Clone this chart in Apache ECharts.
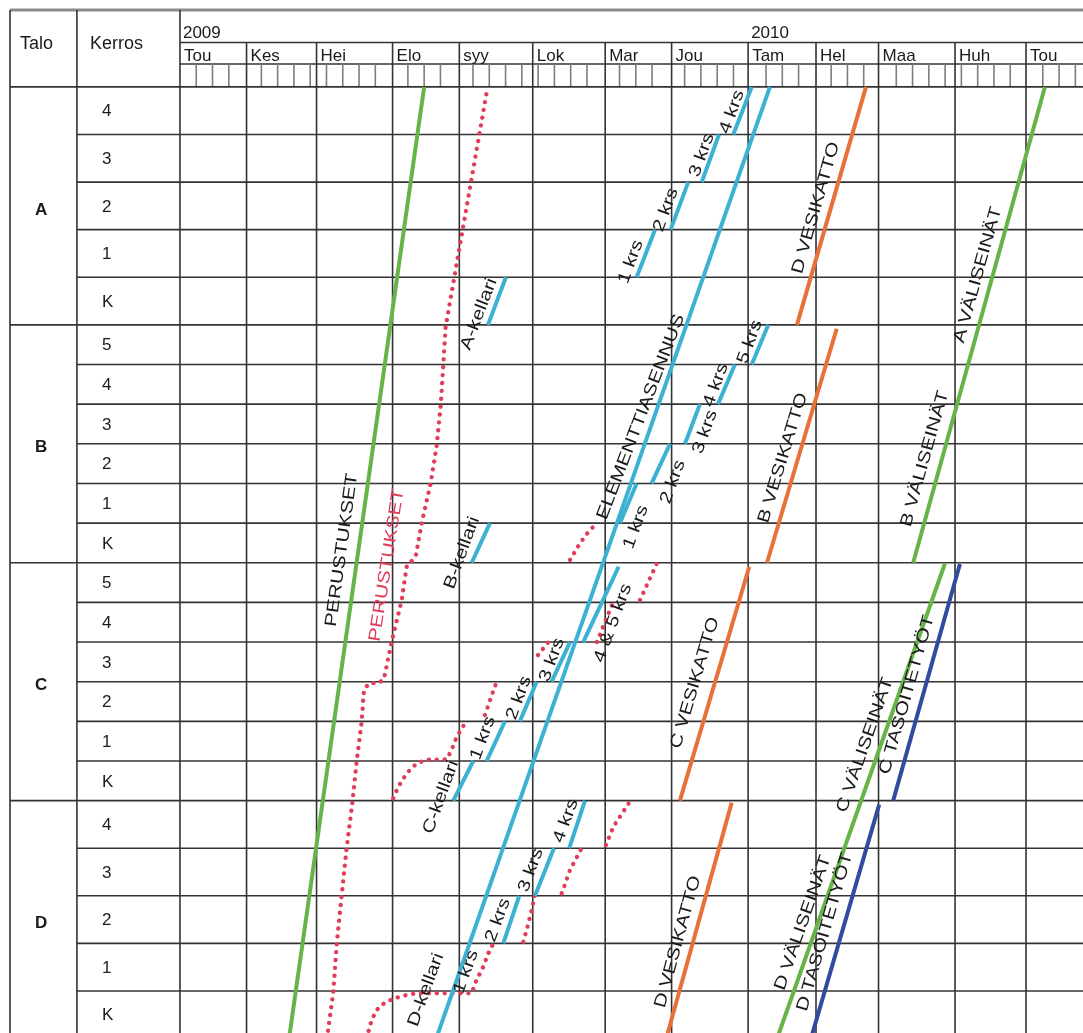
<!DOCTYPE html>
<html><head><meta charset="utf-8">
<script src="https://cdn.jsdelivr.net/npm/echarts@6/dist/echarts.min.js"></script>
<style>html,body{margin:0;padding:0;background:#fff}#c{width:1083px;height:1033px}</style>
</head><body><div id="c"></div><script>
// ---------- data (x = weeks since 1.5.2009, level = floor position, 6 units per building, 0 = top of A) ----------
const monthNames = ['Tou','Kes','Hei','Elo','syy','Lok','Mar','Jou','Tam','Hel','Maa','Huh','Tou'];
const monthStartWeek = [0, 4.09, 8.39, 13.06, 17.16, 21.67, 26.12, 30.20, 34.90, 39.07, 42.91, 47.61, 51.97];
const yearNames = ['2009', '2010'];
const yearStartWeek = [0, 34.90];
const buildingNames = ['A', 'B', 'C', 'D'];
const floorNames = [['4','3','2','1','K'], ['5','4','3','2','1','K'], ['5','4','3','2','1','K'], ['4','3','2','1','K']];

const perustuksetToteutunut = [[6.70, 24], [15.00, 0]];
const perustuksetSuunnitelma = [[9.03,24],[9.42,22.82],[9.63,21.61],[9.93,20.40],[10.24,19.19],[10.61,17.98],[10.85,17.02],[11.16,16.02],[11.30,15.21],[11.61,15.04],[12.22,15.03],[12.53,14.93],[13.00,14.00],[13.62,12.94],[13.94,12.06],[14.25,11.95],[14.50,11.80],[14.85,11.00],[15.40,9.99],[15.77,9.05],[16.03,7.97],[16.32,6.05],[18.90,0]];
const elementtiasennus = [[15.74, 24], [36.24, 0]];
const kerrosAsennus = [
  [[18.92,6],[20.02,4.8]], [[28.05,4.8],[29.18,3.6]], [[30.14,3.6],[31.22,2.4]], [[32.05,2.4],[33.11,1.2]], [[33.99,1.2],[35.12,0]],
  [[17.92,12],[19.04,11]], [[27.03,11],[28.05,10]], [[28.97,10],[30.10,9]], [[31.02,9],[31.94,8]], [[33.05,8],[34.09,7]], [[35.12,7],[36.14,6]],
  [[16.79,18],[18.02,17]], [[18.84,17],[19.96,16]], [[20.88,16],[21.91,15]], [[22.83,15],[23.96,14]], [[24.77,14],[26.95,12.1]],
  [[19.86,21.6],[20.84,20.4]], [[21.81,20.4],[22.97,19.2]], [[23.91,19.2],[24.88,18]]
];
const kerrosSuunnitelma = [
  [[23.96,11.93],[24.57,11.51],[25.18,11.17],[25.69,10.99]],
  [[13.10,17.94],[13.41,17.65],[13.93,17.31],[14.54,17.06],[15.15,16.97],[16.38,16.96],[16.69,16.72],[17.00,16.39],[17.51,16.05]],
  [[18.73,15.84],[19.45,15.0]],
  [[21.99,14.33],[22.73,13.95]],
  [[25.61,14.0],[26.54,13.06]],
  [[28.26,12.94],[29.30,12.01]],
  [[11.49,24],[11.57,23.83],[11.78,23.53],[12.08,23.28],[12.59,23.09],[13.21,22.98],[13.93,22.90],[14.54,22.86],[17.92,22.86],[18.22,22.52],[18.63,22.19],[18.94,21.85],[19.25,21.60]],
  [[21.09,21.56],[21.40,21.10],[21.81,20.38]],
  [[23.45,20.34],[23.96,19.75],[24.67,19.20]],
  [[26.17,19.12],[26.62,18.66],[27.64,18.02]]
];
const vesikatto = [[[37.90,6],[42.14,0]], [[36.06,12],[40.34,6.1]], [[30.71,18],[34.97,12.1]], [[29.87,24],[33.89,18.05]]];
const valiseinat = [[[45.04,12],[53.13,0]], [[36.68,24],[46.99,12.02]]];
const tasoitetyot = [[[43.81,18],[47.91,12.03]], [[38.76,24],[42.95,18.1]]];

// annotations: [text, week, level, angle]
const annotations = [
  ['PERUSTUKSET', 9.95, 11.68, 82],
  ['A-kellari', 18.37, 5.73, 69], ['1 krs', 27.70, 4.41, 70], ['2 krs', 29.85, 3.10, 70], ['3 krs', 32.06, 1.72, 70], ['4 krs', 33.91, 0.63, 70],
  ['ELEMENTTIASENNUS', 28.32, 8.32, 69],
  ['B-kellari', 17.32, 11.75, 70], ['1 krs', 28.01, 11.10, 70], ['2 krs', 30.28, 9.96, 70], ['3 krs', 32.25, 8.70, 70], ['4 krs', 32.92, 7.52, 70], ['5 krs', 35.01, 6.43, 70],
  ['D VESIKATTO', 39.07, 3.05, 74], ['B VESIKATTO', 37.04, 9.36, 73], ['C VESIKATTO', 31.63, 15.03, 73.5], ['D VESIKATTO', 30.59, 21.56, 74.7],
  ['A VÄLISEINÄT', 49.02, 4.74, 74.4], ['B VÄLISEINÄT', 45.76, 9.38, 74.4], ['C VÄLISEINÄT', 42.08, 16.60, 70.7], ['C TASOITETYÖT', 44.66, 15.33, 74.2],
  ['D VÄLISEINÄT', 38.27, 21.08, 70.7], ['D TASOITETYÖT', 39.62, 21.31, 73.8],
  ['C-kellari', 16.03, 17.91, 70], ['1 krs', 18.61, 16.42, 70], ['2 krs', 20.82, 15.41, 70], ['3 krs', 22.85, 14.45, 70], ['4 & 5 krs', 26.60, 13.52, 70],
  ['D-kellari', 15.11, 22.77, 70], ['1 krs', 17.57, 22.32, 70], ['2 krs', 19.53, 21.01, 70], ['3 krs', 21.56, 19.75, 70], ['4 krs', 23.71, 18.51, 70]
];
const planAnnotations = [['PERUSTUKSET', 12.71, 12.06, 81]];

// ---------- layout ----------
const X_MIN = -10.44, X_MAX = 55.47, Y_MIN = -1.94, Y_MAX = 23.86;
const X_KERROS = -6.33, Y_YEAR = -1.12, Y_MONTH = -0.58, Y_END = 24;
const BLOCK = 6;
const FONT = '"Liberation Sans", Arial, Helvetica, sans-serif';
const C_GREEN = '#66b447', C_BLUE = '#3db1d3', C_ORANGE = '#e8713a', C_NAVY = '#2f4c9f', C_RED = '#e13d5b';

// table frame segments
const segs = [];
segs.push([X_MIN, Y_MIN, X_MAX, Y_MIN, 'border']);
segs.push([X_MIN, Y_MIN, X_MIN, Y_END, 'line']);
segs.push([X_KERROS, Y_MIN, X_KERROS, Y_END, 'line']);
segs.push([0, Y_MIN, 0, Y_END, 'line']);
segs.push([0, Y_YEAR, X_MAX, Y_YEAR, 'line']);
segs.push([0, Y_MONTH, X_MAX, Y_MONTH, 'line']);
monthStartWeek.slice(1).forEach(m => segs.push([m, Y_YEAR, m, Y_END, 'line']));
for (let k = 1; k < X_MAX; k++) {
  if (monthStartWeek.some(m => Math.abs(m - k) < 0.3)) continue;
  segs.push([k, Y_MONTH, k, 0, 'tick']);
}
buildingNames.forEach((b, bi) => {
  segs.push([X_MIN, bi * BLOCK, X_MAX, bi * BLOCK, 'line']);
  const n = floorNames[bi].length;
  for (let i = 1; i < n; i++) segs.push([X_KERROS, bi * BLOCK + i * BLOCK / n, X_MAX, bi * BLOCK + i * BLOCK / n, 'line']);
});

// table texts: [x, y, text, kind]
const texts = [];
texts.push([X_MIN, Y_YEAR, 'Talo', 'head1']);
texts.push([X_KERROS, Y_YEAR, 'Kerros', 'head2']);
yearNames.forEach((y, i) => texts.push([yearStartWeek[i], Y_YEAR, y, 'year']));
monthNames.forEach((m, i) => texts.push([monthStartWeek[i], Y_MONTH, m, 'month']));
buildingNames.forEach((b, bi) => {
  texts.push([X_MIN, bi * BLOCK + BLOCK / 2, b, 'building']);
  const n = floorNames[bi].length;
  floorNames[bi].forEach((f, i) => texts.push([X_KERROS, bi * BLOCK + (i + 0.5) * BLOCK / n, f, 'floor']));
});

const series = [];
series.push({
  type: 'custom', coordinateSystem: 'cartesian2d', silent: true, z: 1,
  data: segs.map(s => [s[0], s[1]]),
  renderItem: (params, api) => {
    const s = segs[params.dataIndex];
    const p1 = api.coord([s[0], s[1]]), p2 = api.coord([s[2], s[3]]);
    const st = s[4] === 'border' ? { stroke: '#8a8a8a', lineWidth: 3 } :
               s[4] === 'tick' ? { stroke: '#7d7d7d', lineWidth: 1.6 } : { stroke: '#333333', lineWidth: 1.6 };
    return { type: 'line', shape: { x1: p1[0], y1: p1[1], x2: p2[0], y2: p2[1] }, style: st };
  }
});
series.push({
  type: 'custom', coordinateSystem: 'cartesian2d', silent: true, z: 5,
  data: texts.map(t => [t[0], t[1]]),
  renderItem: (params, api) => {
    const t = texts[params.dataIndex];
    const p = api.coord([t[0], t[1]]);
    const k = t[3];
    let dx = 0, dy = 0, va = 'middle', font = '17px ' + FONT;
    if (k === 'head1') { dx = 10; dy = 2; font = '18px ' + FONT; }
    else if (k === 'head2') { dx = 13; dy = 2; font = '18px ' + FONT; }
    else if (k === 'year') { dx = 3; dy = -1; va = 'bottom'; }
    else if (k === 'month') { dx = 4; dy = 1; va = 'bottom'; }
    else if (k === 'building') { dx = 25; dy = 4; font = 'bold 17px ' + FONT; }
    else if (k === 'floor') { dx = 25; dy = 1; }
    return { type: 'text', x: p[0] + dx, y: p[1] + dy,
      style: { text: t[2], fill: '#1a1a1a', font: font, align: 'left', verticalAlign: va } };
  }
});
function addLine(points, color, dotted) {
  series.push({
    type: 'line', data: points, showSymbol: false, symbol: 'none', silent: true, z: 3, clip: true,
    lineStyle: dotted ? { color: color, width: 4.3, type: [0.1, 7.8], cap: 'round' } : { color: color, width: 4, cap: 'butt' }
  });
}
addLine(perustuksetToteutunut, C_GREEN, false);
addLine(perustuksetSuunnitelma, C_RED, true);
kerrosSuunnitelma.forEach(s => addLine(s, C_RED, true));
addLine(elementtiasennus, C_BLUE, false);
kerrosAsennus.forEach(s => addLine(s, C_BLUE, false));
vesikatto.forEach(s => addLine(s, C_ORANGE, false));
valiseinat.forEach(s => addLine(s, C_GREEN, false));
tasoitetyot.forEach(s => addLine(s, C_NAVY, false));

const allNotes = annotations.map(a => a.concat(['#1a1a1a'])).concat(planAnnotations.map(a => a.concat([C_RED])));
series.push({
  type: 'custom', coordinateSystem: 'cartesian2d', silent: true, z: 6,
  data: allNotes.map(a => [a[1], a[2]]),
  renderItem: (params, api) => {
    const a = allNotes[params.dataIndex];
    const p = api.coord([a[1], a[2]]);
    return { type: 'text', x: p[0], y: p[1], rotation: a[3] * Math.PI / 180, scaleX: 1.23, scaleY: 1,
      style: { text: a[0], fill: a[4], font: '17px ' + FONT, align: 'center', verticalAlign: 'middle' } };
  }
});

const chart = echarts.init(document.getElementById('c'), null, { renderer: 'canvas' });
chart.setOption({
  animation: false,
  grid: { left: 10, top: 10, right: 0, bottom: 0, containLabel: false },
  xAxis: { type: 'value', min: X_MIN, max: X_MAX, show: false },
  yAxis: { type: 'value', min: Y_MIN, max: Y_MAX, inverse: true, show: false },
  series: series
});
</script></body></html>
